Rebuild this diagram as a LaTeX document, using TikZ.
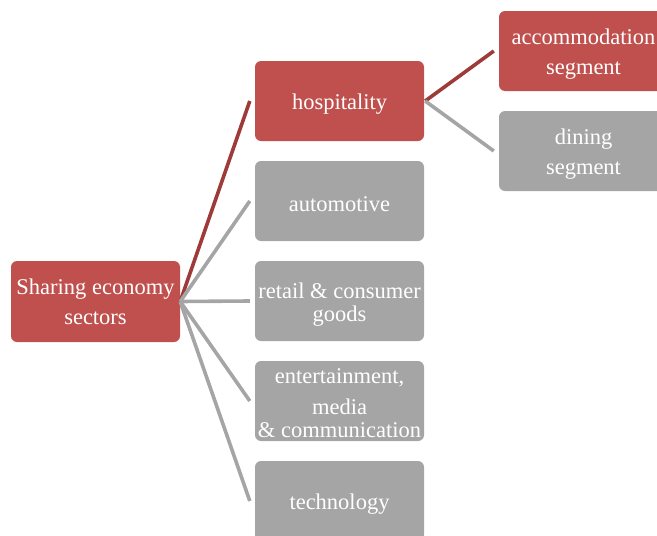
\documentclass[tikz,border=0pt]{standalone}
\usepackage{fontspec}
\setmainfont{Liberation Serif}

\definecolor{boxred}{RGB}{192,80,77}
\definecolor{linered}{RGB}{158,59,57}
\definecolor{boxgray}{RGB}{165,165,165}

% tall strut on the first line pushes the text down in its box
\newcommand*\lift[1]{\rule{0pt}{#1pt}}

\tikzset{
    sector/.style={rectangle, rounded corners=6pt, draw=none, text=white,
        minimum width=169pt, minimum height=80pt, inner sep=0pt,
        align=center, font=\fontsize{22.5}{30}\selectfont},
    link/.style={line width=3.6pt}
}

\begin{document}
\begin{tikzpicture}[x=1pt, y=-1pt]
        \useasboundingbox (0,0) rectangle (657,536);
        \clip (0,0) rectangle (657,536);

        \coordinate (R) at (95.5, 301.5);
        \coordinate (H) at (339.5, 101);
        \coordinate (A) at (339.5, 201);
        \coordinate (C) at (339.5, 301);
        \coordinate (E) at (339.5, 401);
        \coordinate (T) at (339.5, 501);
        \coordinate (S) at (583.5, 51);
        \coordinate (D) at (583.5, 151);

        \node[sector, fill=boxred, minimum height=81pt] (root) at (R) {Sharing economy\\sectors};
        \node[sector, fill=boxred] (hosp) at (H) {\lift{21.5}hospitality};
        \node[sector, fill=boxgray] (auto) at (A) {\lift{21.5}automotive};
        \node[sector, fill=boxgray, font=\fontsize{22.5}{23}\selectfont] (retail) at (C) {\lift{23.5}retail \& consumer\\goods};
        \node[sector, fill=boxgray, font=\fontsize{22.5}{31}\selectfont] (ent) at (E) {\lift{19.5}entertainment,\\media\\[-8pt]\& communication};
        \node[sector, fill=boxgray] (tech) at (T) {\lift{21.5}technology};
        \node[sector, fill=boxred] (accom) at (S) {\lift{22.5}accommodation\\segment};
        \node[sector, fill=boxgray] (dining) at (D) {\lift{22.5}dining\\segment};

        \draw[link, linered] (root.east) -- ([xshift=-5pt]hosp.west);
        \draw[link, boxgray] (root.east) -- ([xshift=-5pt]auto.west);
        \draw[link, boxgray] (root.east) -- ([xshift=-5pt]retail.west);
        \draw[link, boxgray] (root.east) -- ([xshift=-5pt]ent.west);
        \draw[link, boxgray] (root.east) -- ([xshift=-5pt]tech.west);

        \draw[link, linered] ([xshift=1pt]hosp.east) -- ([xshift=-5pt]accom.west);
        \draw[link, boxgray] ([xshift=1pt]hosp.east) -- ([xshift=-5pt]dining.west);
    \end{tikzpicture}
\end{document}
